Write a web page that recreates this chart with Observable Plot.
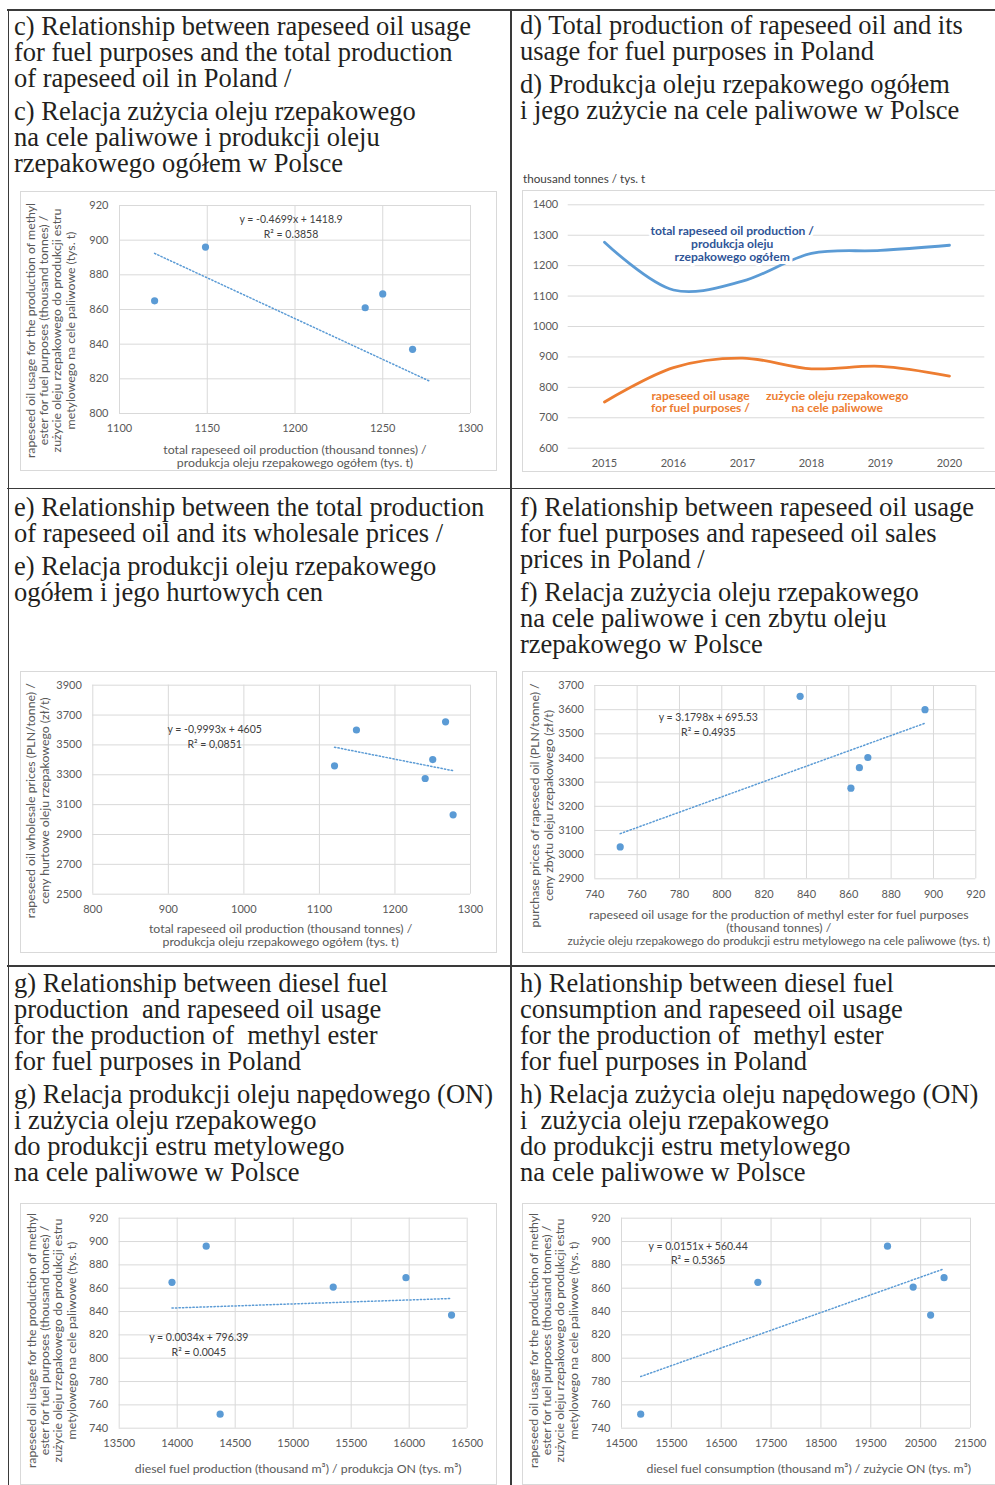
<!DOCTYPE html>
<html><head><meta charset="utf-8">
<script src="https://cdn.jsdelivr.net/npm/d3@7"></script>
<script src="https://cdn.jsdelivr.net/npm/@observablehq/plot@0.6"></script>
<style>
body{margin:0;background:#fff;}
#page{position:relative;width:995px;height:1485px;overflow:hidden;background:#fff;}
.hl{position:absolute;height:1.5px;background:#3a3a3a;}
.vl{position:absolute;width:1.5px;background:#3a3a3a;}
.title{position:absolute;font-family:"Liberation Serif","Times New Roman",serif;font-size:26.5px;line-height:26px;color:#231f20;white-space:pre;}
.title .p2{margin-top:7px;}
.box{position:absolute;border:1px solid #d9d9d9;box-sizing:border-box;}
.chart{position:absolute;}
.chart svg{display:block;}
.unit{position:absolute;font-family:Lato,sans-serif;font-size:11.7px;color:#404040;white-space:nowrap;}
</style></head>
<body><div id="page"></div>
<script>
// ---------- data ----------
const years = [2015, 2016, 2017, 2018, 2019, 2020];
const totalRapeseedOilProduction = [1277, 1120, 1149, 1240, 1250, 1267];
const rapeseedOilFuelUsage = [752, 865, 896, 861, 869, 837];
const rapeseedOilPrice = [3032, 3360, 3600, 3275, 3402, 3655];
const dieselFuelProduction = [14370, 13955, 14250, 15345, 15972, 16365];
const dieselFuelConsumption = [14885, 17235, 19835, 20350, 20970, 20700];

const ticksC_x = [1100, 1150, 1200, 1250, 1300];
const ticksC_y = [800, 820, 840, 860, 880, 900, 920];
const ticksD_y = [600, 700, 800, 900, 1000, 1100, 1200, 1300, 1400];
const ticksE_x = [800, 900, 1000, 1100, 1200, 1300];
const ticksE_y = [2500, 2700, 2900, 3100, 3300, 3500, 3700, 3900];
const ticksF_x = [740, 760, 780, 800, 820, 840, 860, 880, 900, 920];
const ticksF_y = [2900, 3000, 3100, 3200, 3300, 3400, 3500, 3600, 3700];
const ticksG_x = [13500, 14000, 14500, 15000, 15500, 16000, 16500];
const ticksG_y = [740, 760, 780, 800, 820, 840, 860, 880, 900, 920];
const ticksH_x = [14500, 15500, 16500, 17500, 18500, 19500, 20500, 21500];
const ticksH_y = [740, 760, 780, 800, 820, 840, 860, 880, 900, 920];

const equations = {
  c: "y = -0.4699x + 1418.9\nR² = 0.3858",
  e: "y = -0,9993x + 4605\nR² = 0,0851",
  f: "y = 3.1798x + 695.53\nR² = 0.4935",
  g: "y = 0.0034x + 796.39\nR² = 0.0045",
  h: "y = 0.0151x + 560.44\nR² = 0.5365"
};
const fuelUsageAxisTitle = "rapeseed oil usage for the production of methyl\nester for fuel purposes (thousand tonnes) /\nzużycie oleju rzepakowego do produkcji estru\nmetylowego na cele paliwowe (tys. t)";
const productionAxisTitle = "total rapeseed oil production (thousand tonnes) /\nprodukcja oleju rzepakowego ogółem (tys. t)";
const wholesaleAxisTitle = "rapeseed oil wholesale prices (PLN/tonne) /\nceny hurtowe oleju rzepakowego (zł/t)";
const purchaseAxisTitle = "purchase prices of rapeseed oil (PLN/tonne) /\nceny zbytu oleju rzepakowego (zł/t)";
const fuelUsageXTitle = "rapeseed oil usage for the production of methyl ester for fuel purposes\n(thousand tonnes) /";
const fuelUsageXTitlePl = "zużycie oleju rzepakowego do produkcji estru metylowego na cele paliwowe (tys. t)";
const dieselProdTitle = "diesel fuel production (thousand m³) / produkcja ON (tys. m³)";
const dieselConsTitle = "diesel fuel consumption (thousand m³) / zużycie ON (tys. m³)";
const seriesNames = ["total rapeseed oil production /\nprodukcja oleju\nrzepakowego ogółem", "rapeseed oil usage\nfor fuel purposes /", "zużycie oleju rzepakowego\nna cele paliwowe"];

const titles = {
  c: [["c) Relationship between rapeseed oil usage", "for fuel purposes and the total production", "of rapeseed oil in Poland /"], ["c) Relacja zużycia oleju rzepakowego", "na cele paliwowe i produkcji oleju", "rzepakowego ogółem w Polsce"]],
  d: [["d) Total production of rapeseed oil and its", "usage for fuel purposes in Poland"], ["d) Produkcja oleju rzepakowego ogółem", "i jego zużycie na cele paliwowe w Polsce"]],
  e: [["e) Relationship between the total production", "of rapeseed oil and its wholesale prices /"], ["e) Relacja produkcji oleju rzepakowego", "ogółem i jego hurtowych cen"]],
  f: [["f) Relationship between rapeseed oil usage", "for fuel purposes and rapeseed oil sales", "prices in Poland /"], ["f) Relacja zużycia oleju rzepakowego", "na cele paliwowe i cen zbytu oleju", "rzepakowego w Polsce"]],
  g: [["g) Relationship between diesel fuel", "production  and rapeseed oil usage", "for the production of  methyl ester", "for fuel purposes in Poland"], ["g) Relacja produkcji oleju napędowego (ON)", "i zużycia oleju rzepakowego", "do produkcji estru metylowego", "na cele paliwowe w Polsce"]],
  h: [["h) Relationship between diesel fuel", "consumption and rapeseed oil usage", "for the production of  methyl ester", "for fuel purposes in Poland"], ["h) Relacja zużycia oleju napędowego (ON)", "i  zużycia oleju rzepakowego", "do produkcji estru metylowego", "na cele paliwowe w Polsce"]]
};

// ---------- layout helpers ----------
const page = document.getElementById("page");
function el(cls, css, html) {
  const d = document.createElement("div");
  d.className = cls;
  Object.assign(d.style, css);
  if (html != null) d.innerHTML = html;
  page.appendChild(d);
  return d;
}
function esc(s){return s.replace(/&/g,"&amp;").replace(/</g,"&lt;");}
function title(key, left, top) {
  const [p1, p2] = titles[key];
  el("title", {left: left + "px", top: top + "px"},
    "<div>" + p1.map(esc).join("\n") + "</div><div class='p2'>" + p2.map(esc).join("\n") + "</div>");
}

// table lines
el("hl", {left: "7px", top: "9px", width: "1000px"});
el("hl", {left: "7px", top: "487.5px", width: "1000px"});
el("hl", {left: "7px", top: "965px", width: "1000px"});
el("vl", {left: "7.5px", top: "9px", height: "1490px"});
el("vl", {left: "510px", top: "9px", height: "1490px"});

title("c", 14, 13);
title("d", 520, 12);
title("e", 14, 494);
title("f", 520, 494);
title("g", 14, 970);
title("h", 520, 970);

const blue = "#5b9bd5", orange = "#ed7d31", grid = "#d9d9d9", tickc = "#595959";
const axisTitleSize = 12.3;

function scatter(o) {
  const rows = years.map((yr, i) => ({year: yr, x: o.xs[i], y: o.ys[i]}));
  const [y0, y1] = [o.yt[0], o.yt[o.yt.length - 1]];
  const extra = o.xlab2 ? [Plot.text([o.xlab2], {frameAnchor: "bottom", textAnchor: "middle", dx: o.xl2dx, dy: o.xl2dy, lineAnchor: "middle", fontSize: o.xl2size, fill: tickc})] : [];
  return Plot.plot({
    width: o.w, height: o.h,
    marginLeft: o.ml, marginRight: o.mr, marginTop: o.mt, marginBottom: o.mb,
    style: {fontFamily: "Lato, sans-serif", fontSize: "11px", background: "transparent", overflow: "visible", maxWidth: "none"},
    x: {domain: [o.xt[0], o.xt[o.xt.length - 1]]},
    y: {domain: [y0, y1]},
    marks: [
      Plot.gridX({ticks: o.xt, stroke: grid, strokeOpacity: 1, strokeWidth: 1}),
      Plot.gridY({ticks: o.yt, stroke: grid, strokeOpacity: 1, strokeWidth: 1}),
      Plot.axisX({ticks: o.xt, tickSize: 0, tickPadding: 11, fontSize: 11, color: tickc, label: null, tickFormat: d => String(d)}),
      Plot.axisY({ticks: o.yt, tickSize: 0, tickPadding: 11, fontSize: 11, color: tickc, label: null, tickFormat: d => String(d)}),
      Plot.linearRegressionY(rows, {x: "x", y: "y", ci: 0, stroke: blue, strokeWidth: 1.5, strokeDasharray: "1.3 2.2"}),
      Plot.dot(rows, {x: "x", y: "y", r: 3.6, fill: blue, stroke: "none", filter: d => d.y >= y0 && d.y <= y1}),
      Plot.text([o.eq], {frameAnchor: "top", textAnchor: "middle", dx: o.eqdx, dy: o.eqdy, lineAnchor: "middle", fontSize: 10.5, fill: "#404040", lineHeight: 1.4}),
      Plot.text([o.xlab], {frameAnchor: "bottom", textAnchor: "middle", dx: o.xldx, dy: o.xldy, lineAnchor: "middle", fontSize: axisTitleSize, fill: tickc, lineHeight: o.xllh || 1.05}),
      ...extra,
      Plot.text([o.ylab], {frameAnchor: "left", textAnchor: "middle", rotate: -90, dx: o.yldx, dy: o.yldy, lineAnchor: "middle", fontSize: axisTitleSize, fill: tickc, lineHeight: o.yllh || 1.08})
    ]
  });
}

function place(svg, left, top, w, h, boxW) {
  el("box", {left: left + "px", top: top + "px", width: (boxW || w) + "px", height: h + "px"});
  const d = el("chart", {left: left + "px", top: top + "px", width: w + "px", height: h + "px"});
  d.appendChild(svg);
}

// panel c
place(scatter({
  xs: totalRapeseedOilProduction, ys: rapeseedOilFuelUsage, xt: ticksC_x, yt: ticksC_y,
  w: 477, h: 280, ml: 99, mr: 27, mt: 14, mb: 58,
  eq: equations.c, eqdx: -4, eqdy: 20.5,
  xlab: productionAxisTitle, xldx: 0, xldy: 42.5,
  ylab: fuelUsageAxisTitle, yldx: -69, yldy: 21
}), 20, 191, 477, 280);

// panel e
place(scatter({
  xs: totalRapeseedOilProduction, ys: rapeseedOilPrice, xt: ticksE_x, yt: ticksE_y,
  w: 477, h: 282, ml: 72.3, mr: 27, mt: 13.7, mb: 59.3,
  eq: equations.e, eqdx: -67, eqdy: 50.8,
  xlab: productionAxisTitle, xldx: -1, xldy: 40.8,
  ylab: wholesaleAxisTitle, yldx: -55, yldy: 11
}), 20, 671, 477, 282);

// panel f
place(scatter({
  xs: rapeseedOilFuelUsage, ys: rapeseedOilPrice, xt: ticksF_x, yt: ticksF_y,
  w: 473, h: 282, ml: 72.3, mr: 19.7, mt: 14, mb: 74.7,
  eq: equations.f, eqdx: -77, eqdy: 38.2,
  xlab: fuelUsageXTitle, xldx: -6.5, xldy: 43,
  xlab2: fuelUsageXTitlePl, xl2dx: -6.5, xl2dy: 62.4, xl2size: 11.7,
  ylab: purchaseAxisTitle, yldx: -53, yldy: 23.3
}), 522, 671, 473, 282, 490);

// panel g
place(scatter({
  xs: dieselFuelProduction, ys: rapeseedOilFuelUsage, xt: ticksG_x, yt: ticksG_y,
  w: 477, h: 282, ml: 98.7, mr: 30.3, mt: 14.7, mb: 57.3,
  eq: equations.g, eqdx: -94.4, eqdy: 125.5,
  xlab: dieselProdTitle, xldx: 5, xldy: 40.6,
  ylab: fuelUsageAxisTitle, yldx: -67.8, yldy: 17.3
}), 20, 1203, 477, 282);

// panel h
place(scatter({
  xs: dieselFuelConsumption, ys: rapeseedOilFuelUsage, xt: ticksH_x, yt: ticksH_y,
  w: 473, h: 282, ml: 99, mr: 25, mt: 14.7, mb: 57.3,
  eq: equations.h, eqdx: -97.8, eqdy: 34.1,
  xlab: dieselConsTitle, xldx: 12.8, xldy: 40.6,
  ylab: fuelUsageAxisTitle, yldx: -68.1, yldy: 17.3
}), 522, 1203, 473, 282, 490);

// panel d (line chart)
const rowsD = years.flatMap((yr, i) => [
  {year: yr, series: "total", value: totalRapeseedOilProduction[i]},
  {year: yr, series: "fuel", value: rapeseedOilFuelUsage[i]}
]);
el("unit", {left: "523px", top: "171px"}, "thousand tonnes / tys. t");
place(Plot.plot({
  width: 473, height: 282, marginLeft: 45.7, marginRight: 10.7, marginTop: 14.3, marginBottom: 24.3,
  style: {fontFamily: "Lato, sans-serif", fontSize: "11px", background: "transparent", overflow: "visible", maxWidth: "none"},
  x: {type: "point", domain: years, padding: 0.5},
  y: {domain: [600, 1400]},
  color: {domain: ["total", "fuel"], range: [blue, orange]},
  marks: [
    Plot.gridY({ticks: ticksD_y, stroke: grid, strokeOpacity: 1, strokeWidth: 1}),
    Plot.axisY({ticks: ticksD_y, tickSize: 0, tickPadding: 10, fontSize: 11, color: tickc, label: null, tickFormat: d => String(d)}),
    Plot.axisX({tickSize: 0, tickPadding: 11, fontSize: 11, color: tickc, label: null, tickFormat: d => String(d)}),
    Plot.line(rowsD, {x: "year", y: "value", z: "series", stroke: "series", curve: "catmull-rom", strokeWidth: 2.8, strokeLinecap: "round"}),
    Plot.text([seriesNames[0]], {frameAnchor: "top", textAnchor: "middle", dx: -44.3, dy: 39, lineAnchor: "middle", fontSize: 12.1, fontWeight: "bold", fill: "#2f5597", stroke: "white", strokeWidth: 6, paintOrder: "stroke", lineHeight: 1.1}),
    Plot.text([seriesNames[1]], {frameAnchor: "top", textAnchor: "middle", dx: -76, dy: 197, lineAnchor: "middle", fontSize: 12, fontWeight: "bold", fill: orange, lineHeight: 1.05}),
    Plot.text([seriesNames[2]], {frameAnchor: "top", textAnchor: "middle", dx: 60.7, dy: 197, lineAnchor: "middle", fontSize: 12, fontWeight: "bold", fill: orange, lineHeight: 1.05})
  ]
}), 522, 190, 473, 282, 490);
</script>
</body></html>
